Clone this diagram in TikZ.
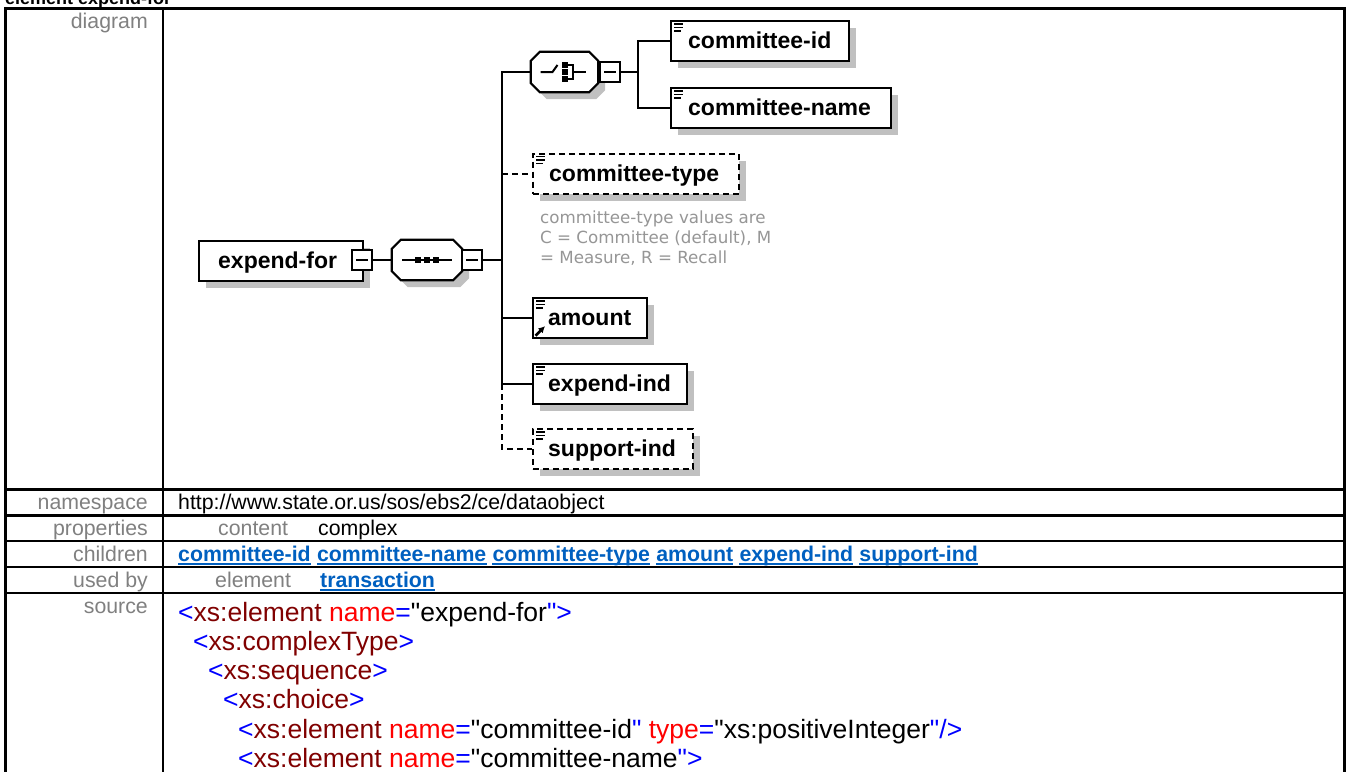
\documentclass[tikz,border=0pt]{standalone}
\usepackage{fontspec}
\setmainfont{Liberation Sans}
\newfontfamily\annofont{DejaVu Sans}
\usetikzlibrary{shadows,calc,arrows.meta}
\definecolor{shadowgray}{RGB}{192,192,192}
\definecolor{labelgray}{RGB}{128,128,128}
\definecolor{linkblue}{RGB}{0,96,192}
\definecolor{annogray}{RGB}{150,150,150}
\definecolor{tagblue}{RGB}{0,0,255}
\definecolor{elemred}{RGB}{128,0,0}
\definecolor{attrred}{RGB}{255,0,0}
\newcommand\xtag[1]{\textcolor{tagblue}{#1}}
\newcommand\xel[1]{\textcolor{elemred}{#1}}
\newcommand\xat[1]{\textcolor{attrred}{#1}}
% straight double quote, inserted as a glyph so that the TeX mapping does not curl it
\newcommand\dq{\XeTeXglyph\XeTeXcharglyph"22\relax}
% octagon drawn around a named (invisible) node, shifted by #2,#3
\newcommand\octdraw[4]{\path[#4] ($(#1.north west)+(9+#2,#3)$) -- ($(#1.north east)+(-9+#2,#3)$) -- ($(#1.north east)+(#2,9+#3)$) -- ($(#1.south east)+(#2,-9+#3)$) -- ($(#1.south east)+(-9+#2,#3)$) -- ($(#1.south west)+(9+#2,#3)$) -- ($(#1.south west)+(#2,-9+#3)$) -- ($(#1.north west)+(#2,9+#3)$) -- cycle;}
\tikzset{
  conn/.style={line width=2.2pt},
  optconn/.style={conn, dash pattern=on 6pt off 4pt},
  shadowed/.style={drop shadow={shadow xshift=7pt,shadow yshift=-7pt,fill=shadowgray,opacity=1}},
  elembox/.style={draw, line width=2.2pt, fill=white, rectangle, inner sep=0pt, minimum height=40pt, anchor=north west, shadowed},
  optbox/.style={elembox, dash pattern=on 6pt off 4pt},
  docicon/.style={path picture={\draw[solid,line width=1.4pt]
      ([shift={(3pt,-3pt)}]path picture bounding box.north west) -- ++(9pt,0pt)
      ([shift={(3pt,-6.5pt)}]path picture bounding box.north west) -- ++(9pt,0pt)
      ([shift={(3pt,-10pt)}]path picture bounding box.north west) -- ++(7pt,0pt);}},
  minusbox/.style={draw, line width=1.8pt, fill=white, rectangle, minimum size=20pt, inner sep=0pt,
      path picture={\draw[line width=1.6pt] ([xshift=4pt]path picture bounding box.west) -- ([xshift=-4pt]path picture bounding box.east);}},
  compnode/.style={rectangle, inner sep=0pt, minimum height=40pt},
  boxtext/.style={anchor=base west, inner sep=0pt, font=\fontsize{23}{26}\selectfont\bfseries},
  anno/.style={anchor=base west, inner sep=0pt, text=annogray, font=\annofont\fontsize{16.7}{20}\selectfont},
  lbl/.style={anchor=base east, inner sep=0pt, text=labelgray, font=\fontsize{21.3}{24}\selectfont},
  graytext/.style={anchor=base west, inner sep=0pt, text=labelgray, font=\fontsize{21.3}{24}\selectfont},
  val/.style={anchor=base west, inner sep=0pt, font=\fontsize{21.3}{24}\selectfont},
  lnk/.style={anchor=base west, inner sep=0pt, text=linkblue, font=\fontsize{21.3}{24}\selectfont\bfseries},
  src/.style={anchor=base west, inner sep=0pt, font=\fontsize{26.5}{30}\selectfont},
  symline/.style={line width=2pt},
  tableouter/.style={line width=3pt},
  tableinner/.style={line width=2.5pt}
}
\begin{document}
\begin{tikzpicture}[x=1pt,y=-1pt]
\useasboundingbox (0,0) rectangle (1346,771);
\clip (0,0) rectangle (1346,771);
\fill[white] (0,0) rectangle (1346,771);

% heading (cut off at the top, as in the reference)
\node[anchor=base west, inner sep=0pt, font=\fontsize{18}{20}\selectfont\bfseries] (title) at (5,4.5) {element expend-for};

% table
\draw[tableouter] (5,800) -- (5,8.5) -- (1344.5,8.5) -- (1344.5,800);
\draw[tableinner] (163,8.5) -- (163,800);
\foreach \yy in {489.5,515.5,541,567,593} \draw[tableinner] (5,\yy) -- (1344.5,\yy);

% row labels
\node[lbl] (ldiag) at (148,28) {diagram};
\node[lbl] (lns) at (148,509.5) {namespace};
\node[lbl] (lprop) at (148,535) {properties};
\node[lbl] (lchild) at (148,561) {children};
\node[lbl] (lused) at (148,587) {used by};
\node[lbl] (lsrc) at (148,613) {source};

% namespace / properties
\node[val] (nsval) at (178,509.5) {http://www.state.or.us/sos/ebs2/ce/dataobject};
\node[graytext] (pcont) at (218,535) {content};
\node[val] (pcomp) at (318,535) {complex};

% children links
\node[lnk] (ch1) at (178,561) {committee-id};
\node[lnk] (ch2) at ($(ch1.base east)+(5.9,0)$) {committee-name};
\node[lnk] (ch3) at ($(ch2.base east)+(5.9,0)$) {committee-type};
\node[lnk] (ch4) at ($(ch3.base east)+(5.9,0)$) {amount};
\node[lnk] (ch5) at ($(ch4.base east)+(5.9,0)$) {expend-ind};
\node[lnk] (ch6) at ($(ch5.base east)+(5.9,0)$) {support-ind};
% used by
\node[graytext] (uel) at (215,587) {element};
\node[lnk] (ub1) at (320,587) {transaction};
\foreach \n in {ch1,ch2,ch3,ch4,ch5,ch6,ub1}
  \draw[linkblue, line width=1.8pt] ([yshift=-2.8pt]\n.base west) -- ([yshift=-2.8pt]\n.base east);

% source
\node[src] (s1) at (178,621) {\xtag{<}\xel{xs:element} \xat{name}\xtag{=}\dq expend-for\xtag{\dq>}};
\node[src] (s2) at (193,650.3) {\xtag{<}\xel{xs:complexType}\xtag{>}};
\node[src] (s3) at (208,679.6) {\xtag{<}\xel{xs:sequence}\xtag{>}};
\node[src] (s4) at (223,708.9) {\xtag{<}\xel{xs:choice}\xtag{>}};
\node[src] (s5) at (238,738.2) {\xtag{<}\xel{xs:element} \xat{name}\xtag{=}\dq committee-id\xtag{\dq} \xat{type}\xtag{=}\dq xs:positiveInteger\xtag{\dq/>}};
\node[src] (s6) at (238,767.5) {\xtag{<}\xel{xs:element} \xat{name}\xtag{=}\dq committee-name\xtag{\dq>}};

% ---------------- diagram ----------------
\coordinate (bus) at (502,0);
\coordinate (cbus) at (638,0);

% root element
\node[elembox, minimum width=164pt] (expfor) at (198,240) {};
\node[boxtext] (expfort) at ($(expfor.west)+(20,7.5)$) {expend-for};

% sequence compositor
\node[compnode, minimum width=70pt] (seq) at (427,260) {};
\octdraw{seq}{7}{7}{fill=shadowgray}
\octdraw{seq}{0}{0}{draw, fill=white, line width=2.2pt}
\draw[symline] ($(seq.center)+(-25,0)$) -- ($(seq.center)+(25,0)$);
\foreach \dx in {-9,0,9} \fill ($(seq.center)+(\dx-3,-3)$) rectangle ++(6,6);

% choice compositor
\node[compnode, minimum width=67pt] (choice) at (564.5,72) {};
\octdraw{choice}{7}{7}{fill=shadowgray}
\octdraw{choice}{0}{0}{draw, fill=white, line width=2.2pt}
\draw[symline] ($(choice.center)+(-24,0)$) -- ++(12,0) -- ++(5,-7);
\foreach \dy in {-7,0,7} \fill ($(choice.center)+(-2.5,\dy-2.75)$) rectangle ++(5.5,5.5);
\draw[symline] ($(choice.center)+(3,-7)$) -- ++(5.5,0) -- ++(0,14) -- ++(-5.5,0);
\draw[symline] ($(choice.center)+(8.5,0)$) -- ++(13,0);

% minus boxes
\node[minusbox] (exmin) at (362,260) {};
\node[minusbox] (seqmin) at (472,260) {};
\node[minusbox] (chmin) at (610,72) {};

% child elements
\node[elembox, docicon, minimum width=178pt] (cid) at (670,20) {};
\node[boxtext] (cidt) at ($(cid.west)+(18,7.5)$) {committee-id};
\node[elembox, docicon, minimum width=220pt] (cname) at (670,87) {};
\node[boxtext] (cnamet) at ($(cname.west)+(18,7.5)$) {committee-name};
\node[optbox, docicon, minimum width=206pt] (ctype) at (532,152.5) {};
\node[boxtext] (ctypet) at ($(ctype.west)+(17,7.5)$) {committee-type};
\node[elembox, docicon, minimum width=114pt] (amount) at (532,297) {};
\node[boxtext] (amountt) at ($(amount.west)+(16,7.5)$) {amount};
\draw[line width=2.6pt, -{Latex[length=6.5pt,width=7pt]}] ([shift={(3.5,-3.5)}]amount.south west) -- ++(9.5,-9.5);
\node[elembox, docicon, minimum width=154pt] (expind) at (532,363) {};
\node[boxtext] (expindt) at ($(expind.west)+(16,7.5)$) {expend-ind};
\node[optbox, docicon, minimum width=160pt] (supind) at (532,428) {};
\node[boxtext] (supindt) at ($(supind.west)+(16,7.5)$) {support-ind};

% annotation
\node[anno] (an1) at (540,223) {committee-type values are};
\node[anno] (an2) at (540,243) {C = Committee (default), M};
\node[anno] (an3) at (540,263) {= Measure, R = Recall};

% connectors
\draw[conn] (exmin.east) -- (seq.west);
\draw[conn] (seqmin.east) -- (seqmin.east -| bus);
\draw[conn] (choice.west) -- (choice.west -| bus) -- (expind.west -| bus) -- (expind.west);
\draw[conn] (amount.west -| bus) -- (amount.west);
\draw[optconn] (ctype.west -| bus) -- (ctype.west);
\draw[optconn] (expind.west -| bus) |- (supind.west);
\draw[conn] (chmin.east) -- (chmin.east -| cbus);
\draw[conn] (cid.west) -- (cid.west -| cbus) -- (cname.west -| cbus) -- (cname.west);
\end{tikzpicture}
\end{document}
